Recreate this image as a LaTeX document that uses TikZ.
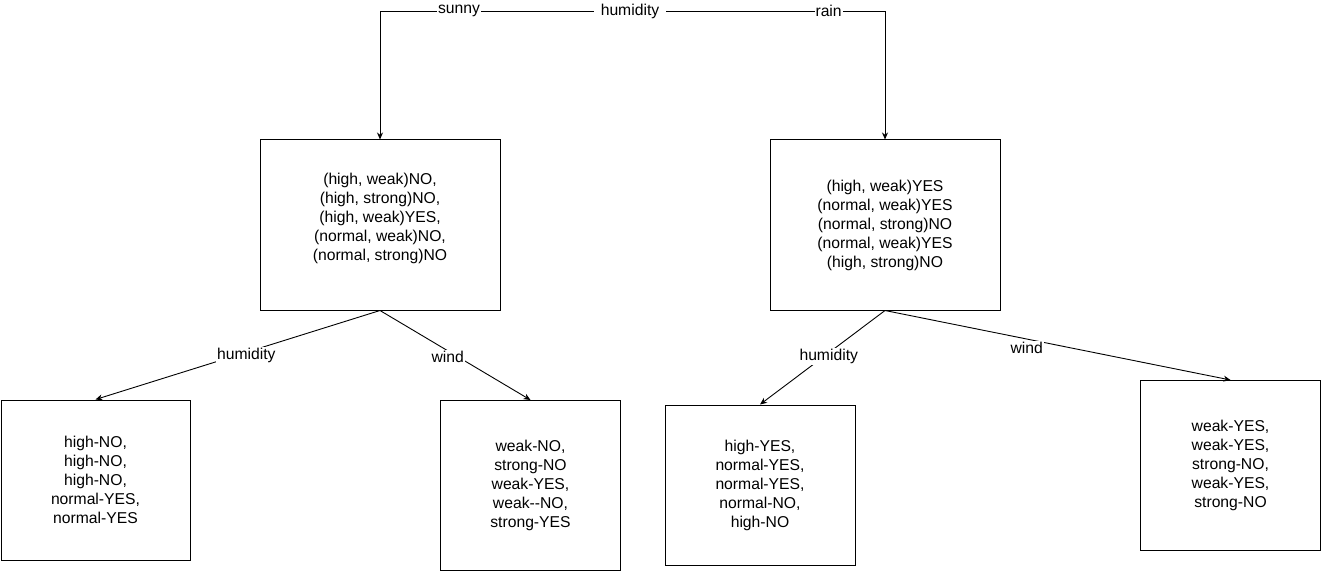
\documentclass[tikz,border=0pt]{standalone}
\usepackage{fontspec}
\setmainfont{Liberation Sans}
\usetikzlibrary{arrows.meta}

\begin{document}
\begin{tikzpicture}[
    x=1pt, y=-1pt,
    font=\fontsize{15.7}{19}\selectfont,
    splitbox/.style={rectangle, draw=black, line width=1pt, fill=white, align=center, inner sep=0pt},
    rootlabel/.style={inner xsep=7pt, inner ysep=2pt},
    edgelabel/.style={fill=white, inner sep=1pt},
    arrowstyle/.style={-{Stealth[length=7pt, width=6pt]}, line width=0.9pt, black}
]
\useasboundingbox (0,0) rectangle (1321,572);

\node[rootlabel] (root) at (630,11) {humidity};
\node[splitbox, minimum width=240pt, minimum height=170pt] (sunny) at (380,225) {(high, weak)NO,\\(high, strong)NO,\\(high, weak)YES,\\(normal, weak)NO,\\(normal, strong)NO\\[-3pt]\mbox{}};
\node[splitbox, minimum width=230pt, minimum height=170pt] (rain) at (885,225) {(high, weak)YES\\(normal, weak)YES\\(normal, strong)NO\\(normal, weak)YES\\(high, strong)NO};
\node[splitbox, minimum width=189pt, minimum height=160pt] (sunnyHum) at (95.5,480) {high-NO,\\high-NO,\\high-NO,\\normal-YES,\\normal-YES};
\node[splitbox, minimum width=180pt, minimum height=170pt] (sunnyWind) at (530.5,485.5) {weak-NO,\\strong-NO\\weak-YES,\\weak-{}-NO,\\strong-YES};
\node[splitbox, minimum width=190pt, minimum height=160pt] (rainHum) at (760,485) {high-YES,\\normal-YES,\\normal-YES,\\normal-NO,\\high-NO};
\node[splitbox, minimum width=180pt, minimum height=170pt] (rainWind) at (1230.5,465.5) {weak-YES,\\weak-YES,\\strong-NO,\\weak-YES,\\strong-NO};

\draw[arrowstyle] (root.west) -| node[edgelabel, pos=0.315] {sunny} (sunny.north);
\draw[arrowstyle] (root.east) -| node[edgelabel, pos=0.371] {rain} (rain.north);
\draw[arrowstyle] (sunny.south) -- node[edgelabel, pos=0.47, yshift=-3pt] {humidity} (sunnyHum.north);
\draw[arrowstyle] (sunny.south) -- node[edgelabel, pos=0.45, yshift=-6pt] {wind} (sunnyWind.north);
\draw[arrowstyle] (rain.south) -- node[edgelabel, pos=0.45, yshift=-4pt] {humidity} (rainHum.north);
\draw[arrowstyle] (rain.south) -- node[edgelabel, pos=0.41, yshift=-9pt] {wind} (rainWind.north);
\end{tikzpicture}
\end{document}
